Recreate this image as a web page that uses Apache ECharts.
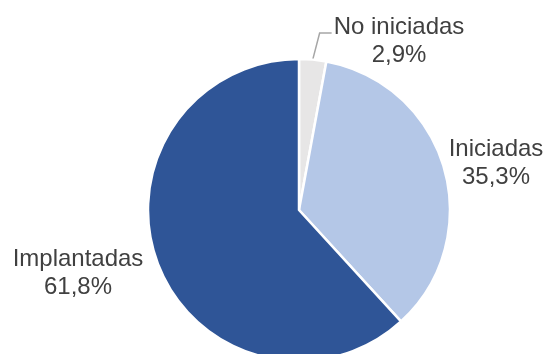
<!DOCTYPE html>
<html>
<head>
<meta charset="utf-8">
<script src="https://cdn.jsdelivr.net/npm/echarts@6/dist/echarts.min.js"></script>
<style>
  html, body { margin: 0; padding: 0; background: #ffffff; }
  #chart { width: 547px; height: 354px; }
</style>
</head>
<body>
<div id="chart"></div>
<script>
// Estado de las medidas
const categories = ['No iniciadas', 'Iniciadas', 'Implantadas'];
const shares = [2.9, 35.3, 61.8];

// Presentation
const sliceColors = ['#E7E6E6', '#B4C7E7', '#2F5597'];
const labelSpots = [[399, 41], [496, 163], [78, 273]];
const guideLen = 12;

const chart = echarts.init(document.getElementById('chart'), null, { renderer: 'canvas' });

const fmt = v => v.toFixed(1).replace('.', ',') + '%';

chart.setOption({
  animation: false,
  backgroundColor: '#ffffff',
  series: [{
    type: 'pie',
    center: [299, 210],
    radius: 151,
    startAngle: 90,
    clockwise: true,
    avoidLabelOverlap: false,
    itemStyle: { borderColor: '#ffffff', borderWidth: 2.5 },
    label: {
      show: true,
      position: 'outside',
      color: '#404040',
      fontFamily: 'Liberation Sans, Arial, sans-serif',
      fontSize: 24,
      lineHeight: 28,
      align: 'center',
      formatter: p => p.name + '\n' + fmt(p.value)
    },
    labelLine: {
      show: false,
      length: 10,
      length2: guideLen,
      lineStyle: { color: '#A6A6A6', width: 1.5 }
    },
    labelLayout: p => {
      const [x, y] = labelSpots[p.dataIndex];
      const out = { x, y, align: 'center', verticalAlign: 'middle' };
      const pts = p.labelLinePoints;
      if (p.dataIndex === 0 && pts && pts.length) {
        // guide runs from the slice edge up to the first text line
        const left = x - p.labelRect.width / 2 - 2;
        const gy = y - 8;
        out.labelLinePoints = [pts[0], [left - guideLen, gy], [left, gy]];
      }
      return out;
    },
    data: categories.map((name, i) => ({
      name,
      value: shares[i],
      itemStyle: { color: sliceColors[i] },
      labelLine: { show: i === 0 }
    }))
  }]
});
</script>
</body>
</html>
